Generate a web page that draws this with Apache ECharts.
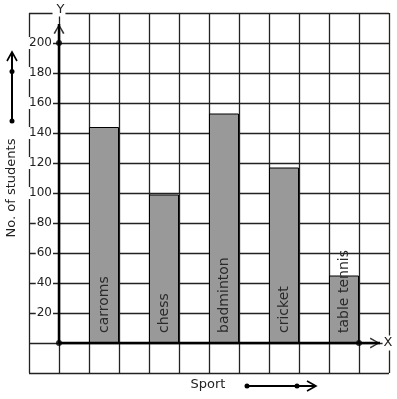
<!DOCTYPE html>
<html>
<head>
<meta charset="utf-8">
<script src="https://cdn.jsdelivr.net/npm/echarts@6/dist/echarts.min.js"></script>
<style>
  html, body { margin: 0; padding: 0; background: #fff; }
  #main { width: 397px; height: 399px; }
</style>
</head>
<body>
<div id="main"></div>
<script>
// data
var sports = ['carroms', 'chess', 'badminton', 'cricket', 'table tennis'];
var students = [144, 99, 153, 117, 45];
var yTicks = [20, 40, 60, 80, 100, 120, 140, 160, 180, 200];

var font = 'DejaVu Sans';
var ink = '#222';

var myChart = echarts.init(document.getElementById('main'));

// bars sit in every second grid cell, starting at the second one
var barData = [];
for (var i = 0; i < sports.length; i++) {
    barData.push({ name: sports[i], value: [1.5 + 2 * i, students[i]] });
}

// open chevron head, pointing up
var chevron = 'path://M0,10L5,0L10,10L8.6,10.6L5,2.6L1.4,10.6Z';

var option = {
    animation: false,
    backgroundColor: '#fff',
    grid: { left: 29, right: 8, top: 13, bottom: 26 },
    xAxis: {
        type: 'value',
        min: -1, max: 11, interval: 1,
        offset: -30,
        axisLine: { show: false },
        axisTick: { show: false },
        axisLabel: { show: false },
        splitLine: { show: true, lineStyle: { color: ink, width: 1.3 } },
        name: 'X',
        nameLocation: 'end',
        nameGap: -1,
        nameTextStyle: {
            fontFamily: font, fontSize: 13, color: ink, align: 'center',
            verticalAlign: 'middle', backgroundColor: '#fff', padding: [1, 1]
        }
    },
    yAxis: {
        type: 'value',
        min: -20, max: 220, interval: 20,
        offset: -30,
        axisLine: { show: false },
        axisTick: { show: false },
        axisLabel: {
            margin: 6,
            fontFamily: font, fontSize: 12, color: ink,
            backgroundColor: '#fff', padding: [0, 1],
            formatter: function (v) {
                return yTicks.indexOf(v) >= 0 ? String(v) : '';
            }
        },
        splitLine: { show: true, lineStyle: { color: ink, width: 1.3 } },
        name: 'Y',
        nameLocation: 'end',
        nameGap: 3,
        nameTextStyle: {
            fontFamily: font, fontSize: 13, color: ink, align: 'center',
            verticalAlign: 'middle', backgroundColor: '#fff', padding: [0, 1, 0, 4]
        }
    },
    graphic: [
        {
            type: 'text', x: 12, y: 188, rotation: Math.PI / 2,
            style: { text: 'No. of students', font: '13px ' + font, fill: ink, align: 'center', verticalAlign: 'middle' }
        },
        {
            type: 'text', x: 208, y: 385,
            style: { text: 'Sport', font: '13px ' + font, fill: ink, align: 'center', verticalAlign: 'middle' }
        },
        // decorative arrow beside the y title
        { type: 'line', shape: { x1: 12, y1: 121, x2: 12, y2: 52 }, style: { stroke: '#000', lineWidth: 2 } },
        { type: 'polyline', shape: { points: [[7, 61], [12, 52], [17, 61]] }, style: { stroke: '#000', lineWidth: 1.6, fill: null } },
        { type: 'circle', shape: { cx: 12, cy: 71.5, r: 2.5 }, style: { fill: '#000' } },
        { type: 'circle', shape: { cx: 12, cy: 121, r: 2.5 }, style: { fill: '#000' } },
        // decorative arrow beside the x title
        { type: 'line', shape: { x1: 247, y1: 386, x2: 316, y2: 386 }, style: { stroke: '#000', lineWidth: 2 } },
        { type: 'polyline', shape: { points: [[307, 381], [316, 386], [307, 391]] }, style: { stroke: '#000', lineWidth: 1.6, fill: null } },
        { type: 'circle', shape: { cx: 247, cy: 386, r: 2.5 }, style: { fill: '#000' } },
        { type: 'circle', shape: { cx: 297, cy: 386, r: 2.5 }, style: { fill: '#000' } }
    ],
    series: [
        {
            type: 'bar',
            barWidth: 30,
            data: barData,
            itemStyle: { color: '#999999', borderColor: '#000', borderWidth: 1 },
            label: {
                show: true,
                position: 'insideBottom',
                rotate: 90,
                align: 'left',
                verticalAlign: 'middle',
                distance: 10,
                fontFamily: font,
                fontSize: 14,
                color: '#2a2a2a',
                formatter: '{b}'
            },
            z: 3
        },
        {
            // y axis line
            type: 'line',
            data: [[0, 0], [0, 212.7]],
            symbol: 'none',
            lineStyle: { color: '#000', width: 2.5 },
            z: 5
        },
        {
            // x axis line
            type: 'line',
            data: [[0, 0], [10.7, 0]],
            symbol: 'none',
            lineStyle: { color: '#000', width: 2.5 },
            z: 5
        },
        {
            type: 'scatter',
            data: [[0, 0], [0, 200], [10, 0]],
            symbol: 'circle',
            symbolSize: 6,
            itemStyle: { color: '#000' },
            z: 6
        },
        {
            type: 'scatter',
            data: [
                { value: [0, 209.4], symbolRotate: 0 },
                { value: [10.53, 0], symbolRotate: -90 }
            ],
            symbol: chevron,
            symbolSize: [11, 10],
            itemStyle: { color: '#000' },
            z: 6
        }
    ]
};

myChart.setOption(option);
window.addEventListener('resize', function () {
    myChart.resize();
});
</script>
</body>
</html>
